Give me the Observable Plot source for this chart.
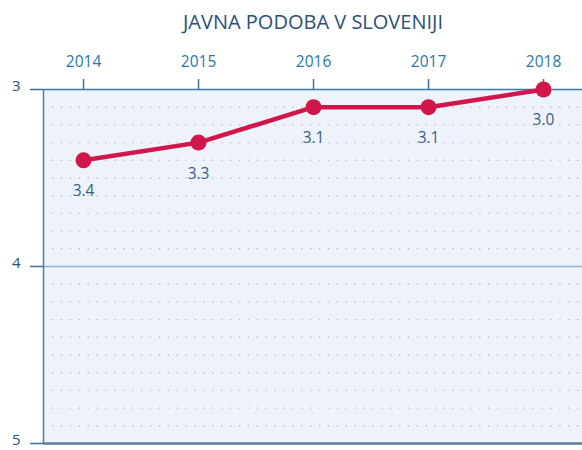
<!DOCTYPE html>
<html>
<head>
<meta charset="utf-8">
<script src="https://cdn.jsdelivr.net/npm/d3@7"></script>
<script src="https://cdn.jsdelivr.net/npm/@observablehq/plot@0.6"></script>
<style>
  html, body { margin: 0; padding: 0; background: #fff; }
  #title { height: 40px; width: 582px; box-sizing: border-box; padding-top: 8px; padding-left: 44px; text-align: center;
    font-family: "Open Sans", sans-serif; font-size: 20px; color: #2b5079; letter-spacing: 0px; line-height: 27px; }
  #chart svg { display: block; }
</style>
</head>
<body>
<div id="title">JAVNA PODOBA V SLOVENIJI</div>
<div id="chart"></div>
<script>
const years = [2014, 2015, 2016, 2017, 2018];
const values = [3.4, 3.3, 3.1, 3.1, 3.0];
const labels = ["3.4", "3.3", "3.1", "3.1", "3.0"];
const yTicks = [3, 4, 5];

const data = years.map((y, i) => ({year: y, value: values[i], label: labels[i]}));
const xDomain = [2013.652, 2018.339];
const dotted = d3.range(31, 50).filter(v => v % 10 !== 0).map(v => v / 10);

const chart = Plot.plot({
  width: 582,
  height: 410,
  marginTop: 49,
  marginBottom: 7,
  marginLeft: 43,
  marginRight: 0,
  style: {fontFamily: "Open Sans, sans-serif", background: "transparent"},
  x: {domain: xDomain, axis: null},
  y: {domain: [3, 5], reverse: true, axis: null},
  marks: [
    Plot.frame({fill: "#eef3fb", stroke: null}),
    Plot.ruleY(dotted, {stroke: "#b4c2d4", strokeWidth: 1.4, strokeDasharray: "1.4,7.5"}),
    Plot.ruleY([4], {stroke: "#86b5da", strokeWidth: 1.5}),
    Plot.ruleY([3], {stroke: "#3f78a8", strokeWidth: 1.5}),
    Plot.ruleY([5], {stroke: "#5a7d9c", strokeWidth: 2.5}),
    Plot.ruleX([xDomain[0]], {stroke: "#4d7ea8", strokeWidth: 1.5}),
    Plot.axisX({anchor: "top", ticks: years, tickFormat: "d", tickSize: 11, tickPadding: 12, label: null,
      fontSize: 15.5, color: "#2a78ad", stroke: "#3f6f9a", strokeWidth: 1.5}),
    Plot.axisY({anchor: "left", ticks: yTicks, tickFormat: () => "", tickSize: 13, label: null,
      stroke: "#3f6f9a", strokeWidth: 1.5}),
    Plot.axisY({anchor: "left", ticks: yTicks, tickFormat: "d", tickSize: 0, tickPadding: 23, label: null,
      fontSize: 15, color: "#2b4f76", dy: -3}),
    Plot.line(data, {x: "year", y: "value", stroke: "#d0164a", strokeWidth: 4.5}),
    Plot.dot(data, {x: "year", y: "value", r: 8, fill: "#d0164a", stroke: null}),
    Plot.text(data, {x: "year", y: "value", text: "label", dy: 31, fontSize: 15.5, fill: "#3a5c84"})
  ]
});
document.getElementById("chart").appendChild(chart);
</script>
</body>
</html>
